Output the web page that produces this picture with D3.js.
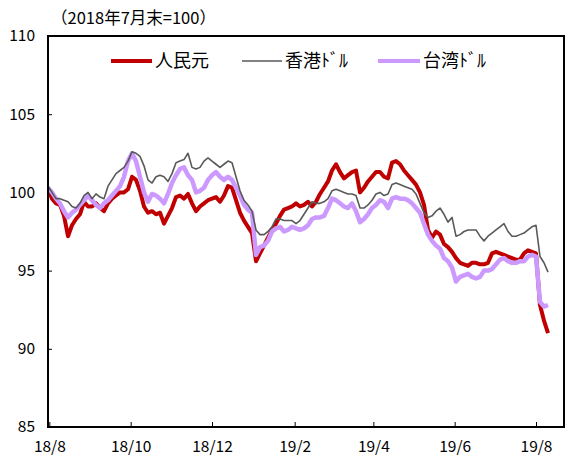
<!DOCTYPE html>
<html><head><meta charset="utf-8">
<script src="https://cdn.jsdelivr.net/npm/d3@7"></script>
<style>body{margin:0;background:#fff}svg{display:block}</style>
</head><body>
<svg id="c" width="570" height="466"></svg>
<script>
const dates = ["2018-07-31","2018-08-03","2018-08-06","2018-08-09","2018-08-12","2018-08-15","2018-08-18","2018-08-21","2018-08-24","2018-08-27",
"2018-08-30","2018-09-02","2018-09-05","2018-09-08","2018-09-11","2018-09-14","2018-09-17","2018-09-20","2018-09-23","2018-09-26",
"2018-09-29","2018-10-02","2018-10-05","2018-10-08","2018-10-11","2018-10-14","2018-10-17","2018-10-20","2018-10-23","2018-10-26",
"2018-10-29","2018-11-01","2018-11-04","2018-11-07","2018-11-10","2018-11-13","2018-11-16","2018-11-19","2018-11-22","2018-11-25",
"2018-11-28","2018-12-01","2018-12-04","2018-12-07","2018-12-10","2018-12-13","2018-12-16","2018-12-19","2018-12-22","2018-12-25",
"2018-12-28","2018-12-31","2019-01-03","2019-01-06","2019-01-09","2019-01-12","2019-01-15","2019-01-18","2019-01-21","2019-01-24",
"2019-01-27","2019-01-30","2019-02-02","2019-02-05","2019-02-08","2019-02-11","2019-02-14","2019-02-17","2019-02-20","2019-02-23",
"2019-02-26","2019-03-01","2019-03-04","2019-03-07","2019-03-10","2019-03-13","2019-03-16","2019-03-19","2019-03-22","2019-03-25",
"2019-03-28","2019-03-31","2019-04-03","2019-04-06","2019-04-09","2019-04-12","2019-04-15","2019-04-18","2019-04-21","2019-04-24",
"2019-04-27","2019-04-30","2019-05-03","2019-05-06","2019-05-09","2019-05-12","2019-05-15","2019-05-18","2019-05-21","2019-05-24",
"2019-05-27","2019-05-30","2019-06-02","2019-06-05","2019-06-08","2019-06-11","2019-06-14","2019-06-17","2019-06-20","2019-06-23",
"2019-06-26","2019-06-29","2019-07-02","2019-07-05","2019-07-08","2019-07-11","2019-07-14","2019-07-17","2019-07-20","2019-07-23",
"2019-07-26","2019-07-29","2019-08-01","2019-08-04","2019-08-07","2019-08-10"];

const cny = [100.2,99.6,99.3,99.2,98.5,97.2,97.9,98.3,98.6,99.4,
99.1,99.1,99.3,99.0,98.8,99.3,99.6,99.8,100.0,100.0,
100.2,101.0,100.8,100.1,99.1,98.7,98.8,98.6,98.7,98.0,
98.5,99.0,99.7,99.8,99.6,99.9,99.3,98.8,99.1,99.3,
99.5,99.6,99.7,99.4,99.8,100.4,100.3,99.5,98.7,98.2,
97.8,97.4,95.6,96.1,96.6,97.1,97.6,98.0,98.5,98.9,
99.0,99.1,99.3,99.1,99.2,99.4,99.1,99.4,99.9,100.3,
100.7,101.4,101.8,101.3,100.9,101.1,101.3,101.4,100.0,100.3,
100.7,101.0,101.3,101.3,101.0,100.9,101.9,102.0,101.8,101.4,
101.1,100.8,100.5,100.0,99.2,97.6,97.1,97.5,97.3,96.7,
96.5,96.2,95.8,95.5,95.4,95.3,95.5,95.5,95.4,95.4,
95.5,96.1,96.2,96.1,96.0,95.9,95.8,95.7,95.7,96.1,
96.3,96.2,96.1,92.8,91.8,91.0];

const hkd = [100.4,100.0,99.6,99.6,99.5,99.4,99.1,99.0,99.3,99.8,
100.0,99.6,99.9,99.7,99.6,100.4,100.8,101.2,101.4,101.6,
102.0,102.6,102.5,102.3,101.7,100.8,100.6,101.0,101.1,101.0,
100.7,101.2,101.9,102.0,102.1,102.5,101.6,101.5,101.6,102.0,
102.2,102.0,101.8,101.6,101.8,102.0,101.9,101.0,100.1,99.5,
99.2,98.8,97.6,97.3,97.3,97.5,97.8,98.3,98.3,98.2,
98.2,98.2,98.0,98.2,98.6,99.0,99.4,99.3,99.3,99.4,
99.6,100.1,100.2,100.1,100.0,99.9,99.9,99.8,99.0,99.0,
99.2,99.5,99.9,100.0,99.8,99.9,100.5,100.6,100.5,100.4,
100.3,100.2,99.9,99.3,98.7,98.4,98.5,98.8,99.0,98.6,
98.1,98.4,97.2,97.3,97.5,97.6,97.6,97.6,97.2,96.9,
97.2,97.4,97.6,97.8,98.0,97.5,97.2,97.2,97.3,97.4,
97.6,97.8,97.9,95.9,95.5,94.9];

const twd = [100.3,100.0,99.6,99.3,98.8,98.4,98.7,98.9,99.2,99.5,
99.8,99.5,99.2,99.0,99.3,99.5,99.8,100.1,100.4,101.0,
102.0,102.5,102.0,101.0,100.0,99.4,99.9,99.8,99.6,99.3,
99.9,100.6,101.1,101.5,101.6,101.1,100.8,100.0,100.1,100.3,
100.8,101.1,101.3,101.0,100.8,101.0,100.8,100.3,99.8,99.2,
98.9,98.7,96.0,96.5,96.6,96.9,97.5,97.7,97.8,97.5,
97.6,97.8,97.7,97.6,97.7,97.9,98.3,98.4,98.4,98.5,
99.0,99.6,99.5,99.3,99.1,99.0,99.3,98.8,98.1,98.3,
98.6,99.0,99.2,99.5,99.4,99.0,99.6,99.7,99.6,99.6,
99.5,99.3,99.0,98.7,98.0,97.3,96.9,96.6,96.4,95.8,
95.6,95.2,94.3,94.6,94.7,94.8,94.6,94.5,94.6,95.0,
95.0,95.1,95.4,95.7,95.8,95.6,95.5,95.5,95.6,95.6,
95.9,96.0,95.9,93.0,92.7,92.8];

const yTicks = [85,90,95,100,105,110];
const xTickDates = ["2018-08-01","2018-10-01","2018-12-01","2019-02-01","2019-04-01","2019-06-01","2019-08-01"];
const xTickLabels = ["18/8","18/10","18/12","19/2","19/4","19/6","19/8"];
const seriesNames = ["人民元","香港ﾄﾞﾙ","台湾ﾄﾞﾙ"];
const subtitle = "（2018年7月末=100）";

const parse = d3.timeParse("%Y-%m-%d");
const L = 48, R = 564, T = 36, B = 427;
const x = d3.scaleTime().domain([parse("2018-07-31"), parse("2019-08-22")]).range([L, R]);
const y = d3.scaleLinear().domain([85, 110]).range([B, T]);
const svg = d3.select("#c");
const font = "'Noto Sans CJK JP', 'Liberation Sans', sans-serif";

svg.append("text").attr("x", 51).attr("y", 24).attr("font-family", font).attr("font-size", 16.5)
  .attr("fill", "#000").text(subtitle);

// y axis
const yAxis = d3.axisLeft(y).tickValues(yTicks).tickSize(-4).tickPadding(13);
const gy = svg.append("g").attr("transform", `translate(${L},0)`).call(yAxis);
gy.select(".domain").remove();
gy.selectAll("text").attr("font-family", font).attr("font-size", 15.5).attr("fill", "#000");
gy.selectAll("line").attr("stroke", "#000");

// x axis
const xAxis = d3.axisBottom(x).tickValues(xTickDates.map(parse)).tickSize(-5).tickPadding(14)
  .tickFormat((d, i) => xTickLabels[i]);
const gx = svg.append("g").attr("transform", `translate(0,${B})`).call(xAxis);
gx.select(".domain").remove();
gx.selectAll("text").attr("font-family", font).attr("font-size", 15.5).attr("fill", "#000");
gx.selectAll("line").attr("stroke", "#000");

const pts = dates.map(parse);
const line = d3.line().x((d, i) => x(pts[i])).y(d => y(d));
const clip = svg.append("clipPath").attr("id", "pc").append("rect")
  .attr("x", L).attr("y", T).attr("width", R - L).attr("height", B - T);
const g = svg.append("g").attr("clip-path", "url(#pc)");
const series = [
  {v: cny, c: "#c00000", w: 4},
  {v: twd, c: "#cc99ff", w: 4.5},
  {v: hkd, c: "#595959", w: 1.6}
];
series.forEach(s => g.append("path").attr("d", line(s.v)).attr("fill", "none")
  .attr("stroke", s.c).attr("stroke-width", s.w).attr("stroke-linejoin", "round"));

// frame
svg.append("rect").attr("x", L).attr("y", T).attr("width", R - L).attr("height", B - T)
  .attr("fill", "none").attr("stroke", "#000").attr("stroke-width", 2);

// legend
const leg = [
  {n: seriesNames[0], c: "#c00000", w: 4, x1: 111, x2: 152, tx: 155},
  {n: seriesNames[1], c: "#595959", w: 1.6, x1: 242, x2: 282, tx: 285},
  {n: seriesNames[2], c: "#cc99ff", w: 4, x1: 378, x2: 420, tx: 423}
];
leg.forEach(l => {
  svg.append("line").attr("x1", l.x1).attr("x2", l.x2).attr("y1", 61).attr("y2", 61)
    .attr("stroke", l.c).attr("stroke-width", l.w);
  svg.append("text").attr("x", l.tx).attr("y", 61).attr("dy", "0.36em").attr("font-family", font)
    .attr("font-size", 18).attr("fill", "#000").text(l.n);
});
</script>
</body></html>
